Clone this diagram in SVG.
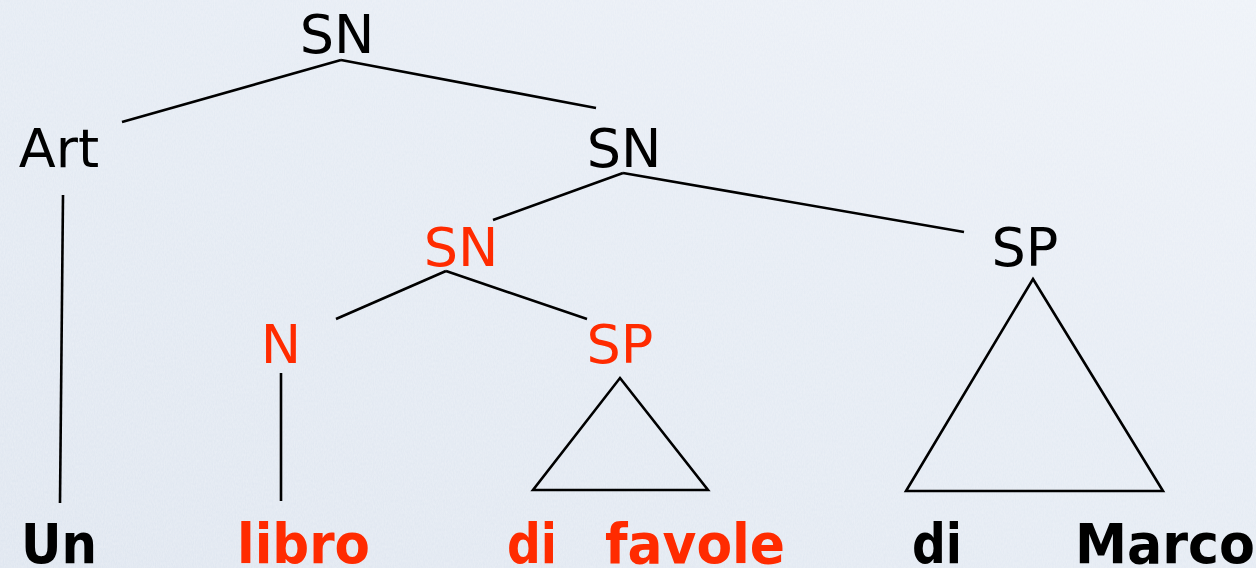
<svg xmlns="http://www.w3.org/2000/svg" width="1256" height="568" viewBox="0 0 1256 568">
  <style>
    .lbl { font-family: "DejaVu Sans", Verdana, sans-serif; font-size: 54px; text-anchor: middle; }
    .word { font-family: "DejaVu Sans Condensed", "DejaVu Sans", sans-serif; font-stretch: condensed; font-weight: bold; font-size: 56px; }
    .blk { fill: #000; }
    .red { fill: #ff2b00; }
    .edge { stroke: #000; stroke-width: 2.6; fill: none; stroke-linecap: butt; }
  </style>
  <defs>
    <linearGradient id="paper" x1="0" y1="1" x2="1" y2="0">
      <stop offset="0" stop-color="#dfe6f0"/>
      <stop offset="0.6" stop-color="#e6ecf4"/>
      <stop offset="1" stop-color="#eef2f8"/>
    </linearGradient>
    <filter id="grain" x="0" y="0" width="100%" height="100%">
      <feTurbulence type="fractalNoise" baseFrequency="0.9 0.35" numOctaves="2" seed="4" result="n"/>
      <feColorMatrix in="n" type="matrix" values="0 0 0 0 1  0 0 0 0 1  0 0 0 0 1  0 0 0 0.35 -0.08" result="w"/>
      <feComposite in="w" in2="SourceGraphic" operator="over"/>
    </filter>
  </defs>

  <!-- paper background -->
  <rect width="1256" height="568" fill="url(#paper)" filter="url(#grain)"/>

  <!-- connectors -->
  <g id="connectors" class="edge">
    <line x1="341" y1="60" x2="122" y2="122"/>
    <line x1="341" y1="60" x2="596" y2="108"/>
    <line x1="63" y1="195" x2="60" y2="503"/>
    <line x1="623" y1="173" x2="493" y2="220"/>
    <line x1="623" y1="173" x2="964" y2="232"/>
    <line x1="446" y1="271" x2="336" y2="319"/>
    <line x1="446" y1="271" x2="587" y2="319"/>
    <line x1="281" y1="373" x2="281" y2="501"/>
    <polygon points="620,378 708,490 533,490" stroke-linejoin="miter"/>
    <polygon points="1033,279 1163,491 906,491" stroke-linejoin="miter"/>
  </g>

  <!-- nodes -->
  <g id="sn-root"><text class="lbl blk" x="337" y="53">SN</text></g>
  <g id="art"><text class="lbl blk" x="59" y="167">Art</text></g>
  <g id="sn-2"><text class="lbl blk" x="624" y="167">SN</text></g>
  <g id="sn-3"><text class="lbl red" x="461" y="266">SN</text></g>
  <g id="sp-marco"><text class="lbl blk" x="1025" y="266">SP</text></g>
  <g id="n"><text class="lbl red" x="281" y="363">N</text></g>
  <g id="sp-favole"><text class="lbl red" x="620" y="363">SP</text></g>

  <!-- terminal words -->
  <g id="w-un"><text class="word blk" x="21" y="563" textLength="76" lengthAdjust="spacingAndGlyphs">Un</text></g>
  <g id="w-libro"><text class="word red" x="237" y="563" textLength="133" lengthAdjust="spacingAndGlyphs">libro</text></g>
  <g id="w-di1"><text class="word red" x="507" y="563" textLength="50" lengthAdjust="spacingAndGlyphs">di</text></g>
  <g id="w-favole"><text class="word red" x="605" y="563" textLength="180" lengthAdjust="spacingAndGlyphs">favole</text></g>
  <g id="w-di2"><text class="word blk" x="912" y="563" textLength="50" lengthAdjust="spacingAndGlyphs">di</text></g>
  <g id="w-marco"><text class="word blk" x="1075" y="563" textLength="180" lengthAdjust="spacingAndGlyphs">Marco</text></g>
</svg>
